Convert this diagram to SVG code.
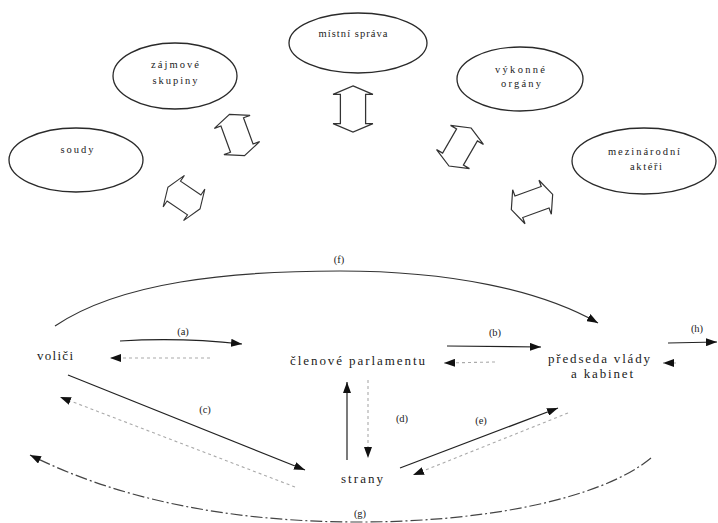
<svg xmlns="http://www.w3.org/2000/svg" xmlns:xlink="http://www.w3.org/1999/xlink" width="718" height="523" viewBox="0 0 718 523">
<style>
.ell{fill:#fff;stroke:#2a2a2a;stroke-width:1.3}
.dbl{fill:#fff;stroke:#333;stroke-width:1.2;stroke-linejoin:miter}
.t{font-family:"Liberation Serif","Times New Roman",serif;fill:#222}
.s{font-size:10.5px}
.b{font-size:13px}
.l{font-size:10.5px}
.solid{fill:none;stroke:#222;stroke-width:1.2}
.light{fill:none;stroke:#aaa;stroke-width:1.1;stroke-dasharray:3 3}
.curve{fill:none;stroke:#333;stroke-width:1.2}
.dashdot{fill:none;stroke:#444;stroke-width:1.2;stroke-dasharray:12 3 2 3}
</style>
<defs>
<marker id="ah" markerUnits="userSpaceOnUse" markerWidth="11" markerHeight="8" refX="11" refY="4" orient="auto" viewBox="0 0 11 8">
<path d="M0,0 L11,4 L0,8 z" fill="#111"/>
</marker>
<polygon id="darrow" points="0,-22 19,-14 12,-14 12,14 19,14 0,22 -19,14 -12,14 -12,-14 -19,-14"/>
</defs>
<rect width="718" height="523" fill="#fff"/>

<g id="node-soudy">
<ellipse class="ell" cx="76" cy="160" rx="67" ry="32"/>
<text class="t s" x="77" y="153" text-anchor="middle" textLength="33" lengthAdjust="spacing">soudy</text>
</g>
<g id="node-zajmove">
<ellipse class="ell" cx="175" cy="76" rx="62" ry="33"/>
<text class="t s" x="175" y="68" text-anchor="middle" textLength="48" lengthAdjust="spacing">zájmové</text>
<text class="t s" x="175" y="84" text-anchor="middle" textLength="45" lengthAdjust="spacing">skupiny</text>
</g>
<g id="node-mistni">
<ellipse class="ell" cx="358" cy="43" rx="69" ry="30"/>
<text class="t s" x="353" y="37" text-anchor="middle" textLength="69" lengthAdjust="spacing">místní správa</text>
</g>
<g id="node-vykonne">
<ellipse class="ell" cx="520" cy="79" rx="63" ry="32"/>
<text class="t s" x="520" y="73" text-anchor="middle" textLength="50" lengthAdjust="spacing">výkonné</text>
<text class="t s" x="521" y="87" text-anchor="middle" textLength="40" lengthAdjust="spacing">orgány</text>
</g>
<g id="node-mezinarodni">
<ellipse class="ell" cx="644" cy="161" rx="72" ry="33"/>
<text class="t s" x="644" y="155" text-anchor="middle" textLength="72" lengthAdjust="spacing">mezinárodní</text>
<text class="t s" x="646" y="170" text-anchor="middle" textLength="32" lengthAdjust="spacing">aktéři</text>
</g>

<g id="double-arrows">
<use xlink:href="#darrow" class="dbl" transform="translate(184,198) rotate(-56) scale(1,0.88)"/>
<use xlink:href="#darrow" class="dbl" transform="translate(237,135) rotate(-20)"/>
<use xlink:href="#darrow" class="dbl" transform="translate(353,109) scale(1.05,1.05)"/>
<use xlink:href="#darrow" class="dbl" transform="translate(460,147) rotate(30)"/>
<use xlink:href="#darrow" class="dbl" transform="translate(532,202) rotate(70) scale(0.95,1)"/>
</g>

<g id="node-volici">
<text class="t b" x="37" y="360" textLength="36" lengthAdjust="spacing">voliči</text>
</g>
<g id="node-clenove">
<text class="t b" x="290" y="365" textLength="135" lengthAdjust="spacing">členové parlamentu</text>
</g>
<g id="node-predseda">
<text class="t b" x="548" y="363" textLength="102" lengthAdjust="spacing">předseda vlády</text>
<text class="t b" x="571" y="378" textLength="62" lengthAdjust="spacing">a kabinet</text>
</g>
<g id="node-strany">
<text class="t b" x="341" y="483" textLength="42" lengthAdjust="spacing">strany</text>
</g>

<g id="connectors">
<path class="curve" d="M55,326 C120,282 230,271 340,271 C450,271 540,290 598,323" marker-end="url(#ah)"/>
<path class="solid" d="M120,341 Q180,337 242,344" marker-end="url(#ah)"/>
<path class="light" d="M210,358 L110,358" marker-end="url(#ah)"/>
<path class="solid" d="M447,346 L541,347" marker-end="url(#ah)"/>
<path class="light" d="M495,362 L444,363" marker-end="url(#ah)"/>
<path class="solid" d="M668,343 L717,342" marker-end="url(#ah)"/>
<path class="light" d="M676,363 L663,363" marker-end="url(#ah)"/>
<path class="solid" d="M68,375 L305,470" marker-end="url(#ah)"/>
<path class="light" d="M295,487 L60,397" marker-end="url(#ah)"/>
<path class="solid" d="M347,460 L347,382" marker-end="url(#ah)"/>
<path class="light" d="M368,380 L368,458" marker-end="url(#ah)"/>
<path class="solid" d="M400,468 L558,408" marker-end="url(#ah)"/>
<path class="light" d="M568,413 L413,475" marker-end="url(#ah)"/>
<path class="dashdot" d="M651,458 C600,500 480,523 350,522 C230,521 120,500 30,455" marker-end="url(#ah)"/>
</g>

<g id="labels">
<text class="t l" x="339" y="263" text-anchor="middle">(f)</text>
<text class="t l" x="183" y="335" text-anchor="middle">(a)</text>
<text class="t l" x="495" y="336" text-anchor="middle">(b)</text>
<text class="t l" x="697" y="332" text-anchor="middle">(h)</text>
<text class="t l" x="205" y="413" text-anchor="middle">(c)</text>
<text class="t l" x="402" y="422" text-anchor="middle">(d)</text>
<text class="t l" x="481" y="424" text-anchor="middle">(e)</text>
<text class="t l" x="360" y="517" text-anchor="middle">(g)</text>
</g>
</svg>
